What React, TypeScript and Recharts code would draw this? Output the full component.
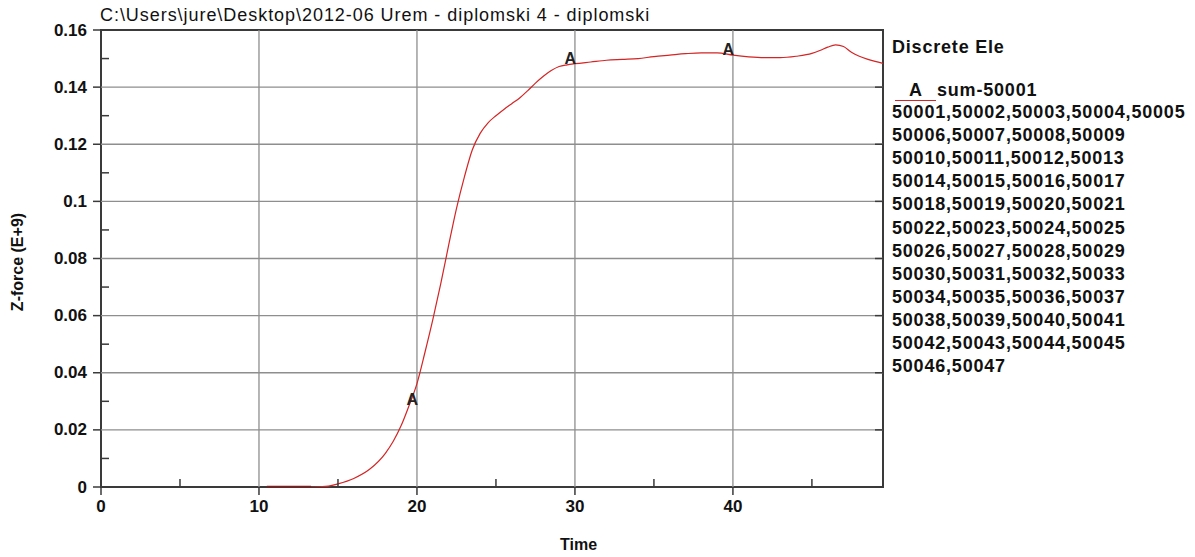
import React from "react";
import {
  ComposedChart,
  Line,
  Scatter,
  XAxis,
  YAxis,
  ReferenceLine,
  ReferenceArea,
} from "recharts";

// time axis samples and the summed z-force (E+9)
const times = [
  10.5, 11, 12, 13, 13.3, 14, 14.4, 15, 16, 17, 18, 18.5, 19, 19.5, 20, 20.5,
  21, 21.5, 22, 22.5, 23, 23.5, 24, 24.5, 25, 25.5, 26, 26.5, 27, 27.5, 28,
  28.5, 29, 29.5, 30, 31, 32, 33, 34, 35, 36, 37, 38, 39, 40, 41, 42, 43, 44,
  45, 45.5, 46, 46.5, 47, 47.5, 48, 48.5, 49, 49.5,
];
const force = [
  0, 0, 0, 0, 0, 0.0001, 0.0003, 0.0011, 0.003, 0.0062, 0.0118, 0.016, 0.0215,
  0.0285, 0.0362, 0.047, 0.0585, 0.071, 0.0845, 0.0975, 0.1085, 0.118, 0.1238,
  0.1275, 0.13, 0.1322, 0.1342, 0.1362, 0.1387, 0.1414, 0.1438, 0.1458, 0.1472,
  0.1478, 0.1482, 0.1488, 0.1494, 0.1497, 0.15, 0.1507, 0.1512, 0.1517, 0.152,
  0.152, 0.1512, 0.1506, 0.1503, 0.1503, 0.1508, 0.1518, 0.1528, 0.154, 0.1548,
  0.1542, 0.1522, 0.1508, 0.1498, 0.149, 0.1483,
];
// the flat start is drawn heavier in the original
const baseTimes = [10.5, 11, 12, 13, 13.3];

// "A" curve symbols
const markerTimes = [19.7, 29.7, 39.7];
const markerValues = [0.0305, 0.15, 0.153];

const xMajor = [0, 10, 20, 30, 40];
const xMinor = [5, 15, 25, 35, 45];
const yMajor = [0, 0.02, 0.04, 0.06, 0.08, 0.1, 0.12, 0.14, 0.16];
const yMinor = [0.01, 0.03, 0.05, 0.07, 0.09, 0.11, 0.13, 0.15];
const xGrid = [10, 20, 30, 40];
const yGrid = [0.02, 0.04, 0.06, 0.08, 0.1, 0.12, 0.14];

const title = "C:\\Users\\jure\\Desktop\\2012-06 Urem - diplomski 4 - diplomski";
const legendTitle = "Discrete Ele";
const seriesName = "sum-50001";
const legendLines = [
  "50001,50002,50003,50004,50005",
  "50006,50007,50008,50009",
  "50010,50011,50012,50013",
  "50014,50015,50016,50017",
  "50018,50019,50020,50021",
  "50022,50023,50024,50025",
  "50026,50027,50028,50029",
  "50030,50031,50032,50033",
  "50034,50035,50036,50037",
  "50038,50039,50040,50041",
  "50042,50043,50044,50045",
  "50046,50047",
];

const data = times.map((t, i) => ({
  t,
  v: force[i],
  base: baseTimes.includes(t) ? force[i] : null,
}));
const markers = markerTimes.map((t, i) => ({ t, v: markerValues[i] }));

const W = 1195;
const H = 557;
const LEFT = 101;
const RIGHT = 883;
const TOP = 30;
const BOTTOM = 487;
const FONT = "'Liberation Sans', Arial, sans-serif";
const AXIS = "#3a3a3a";
const RED = "#d42424";

const XTick = (props: any) => {
  const { x, payload } = props;
  const major = xMajor.includes(payload.value);
  return (
    <g>
      {major ? (
        <>
          <line x1={x} y1={BOTTOM} x2={x} y2={BOTTOM + 8} stroke={AXIS} strokeWidth={1.5} />
          <text
            x={x}
            y={BOTTOM + 19}
            textAnchor="middle"
            dominantBaseline="central"
            fontFamily={FONT}
            fontWeight="bold"
            fontSize={17}
            fill="#111"
          >
            {payload.value}
          </text>
        </>
      ) : (
        <line x1={x} y1={BOTTOM} x2={x} y2={BOTTOM - 8} stroke={AXIS} strokeWidth={1.5} />
      )}
    </g>
  );
};

const YTick = (props: any) => {
  const { y, payload } = props;
  const major = yMajor.includes(payload.value);
  return (
    <g>
      {major ? (
        <>
          <line x1={LEFT - 8} y1={y} x2={LEFT} y2={y} stroke={AXIS} strokeWidth={1.5} />
          <line x1={RIGHT - 8} y1={y} x2={RIGHT} y2={y} stroke={AXIS} strokeWidth={1.5} />
          <text
            x={LEFT - 14}
            y={y}
            textAnchor="end"
            dominantBaseline="central"
            fontFamily={FONT}
            fontWeight="bold"
            fontSize={17}
            fill="#111"
          >
            {payload.value}
          </text>
        </>
      ) : (
        <line x1={LEFT} y1={y} x2={LEFT + 8} y2={y} stroke={AXIS} strokeWidth={1.5} />
      )}
    </g>
  );
};

const MarkA = (props: any) => (
  <text
    x={props.cx}
    y={props.cy}
    textAnchor="middle"
    dominantBaseline="central"
    fontFamily={FONT}
    fontWeight="bold"
    fontSize={16}
    fill="#222"
  >
    A
  </text>
);

const txt: React.CSSProperties = {
  position: "absolute",
  fontFamily: FONT,
  color: "#111",
  whiteSpace: "nowrap",
  lineHeight: "20px",
};

export default function App() {
  return (
    <div style={{ position: "absolute", left: 0, top: 0, width: W, height: H, background: "#fff" }}>
      <ComposedChart
        width={W}
        height={H}
        data={data}
        margin={{ top: TOP, right: W - RIGHT, bottom: 40, left: 40 }}
      >
        <XAxis
          dataKey="t"
          type="number"
          domain={[0, 49.5]}
          ticks={[...xMajor, ...xMinor].sort((a, b) => a - b)}
          tick={<XTick />}
          tickLine={false}
          axisLine={false}
          height={30}
          interval={0}
          allowDataOverflow
        />
        <YAxis
          type="number"
          domain={[0, 0.16]}
          ticks={[...yMajor, ...yMinor].sort((a, b) => a - b)}
          tick={<YTick />}
          tickLine={false}
          axisLine={false}
          width={61}
          interval={0}
          allowDataOverflow
        />
        {xGrid.map((g) => (
          <ReferenceLine key={"x" + g} x={g} stroke="#8e8e8e" strokeWidth={1.3} />
        ))}
        {yGrid.map((g) => (
          <ReferenceLine key={"y" + g} y={g} stroke="#8e8e8e" strokeWidth={1.3} />
        ))}
        <ReferenceArea
          x1={0}
          x2={49.5}
          y1={0}
          y2={0.16}
          fill="none"
          stroke={AXIS}
          strokeWidth={2}
          ifOverflow="visible"
        />
        <Line
          dataKey="v"
          type="monotone"
          stroke={RED}
          strokeWidth={1.2}
          dot={false}
          isAnimationActive={false}
        />
        <Line
          dataKey="base"
          type="linear"
          stroke="#a01010"
          strokeWidth={2.5}
          dot={false}
          isAnimationActive={false}
        />
        <Scatter data={markers} dataKey="v" shape={<MarkA />} isAnimationActive={false} />
      </ComposedChart>

      <div style={{ ...txt, left: 100, top: 5, fontSize: 18, letterSpacing: 0.95 }}>{title}</div>
      <div
        style={{
          ...txt,
          left: 18,
          top: 262,
          fontSize: 16,
          fontWeight: "bold",
          transform: "translate(-50%, -50%) rotate(-90deg)",
        }}
      >
        Z-force (E+9)
      </div>
      <div style={{ ...txt, left: 560, top: 535, fontSize: 16, fontWeight: "bold" }}>Time</div>

      <div style={{ ...txt, left: 892, top: 37, fontSize: 18, fontWeight: "bold", letterSpacing: 0.8 }}>
        {legendTitle}
      </div>
      <div
        style={{
          position: "absolute",
          left: 895,
          top: 100,
          width: 41,
          height: 0,
          borderTop: `1.5px solid ${RED}`,
        }}
      />
      <div style={{ ...txt, left: 909, top: 80, fontSize: 18, fontWeight: "bold" }}>A</div>
      <div style={{ ...txt, left: 937, top: 80, fontSize: 18, fontWeight: "bold", letterSpacing: 0.8 }}>
        {seriesName}
      </div>
      {legendLines.map((s, i) => (
        <div
          key={s}
          style={{
            ...txt,
            left: 892,
            top: 102 + i * 23.1,
            fontSize: 18,
            fontWeight: "bold",
            letterSpacing: 0.8,
          }}
        >
          {s}
        </div>
      ))}
    </div>
  );
}
